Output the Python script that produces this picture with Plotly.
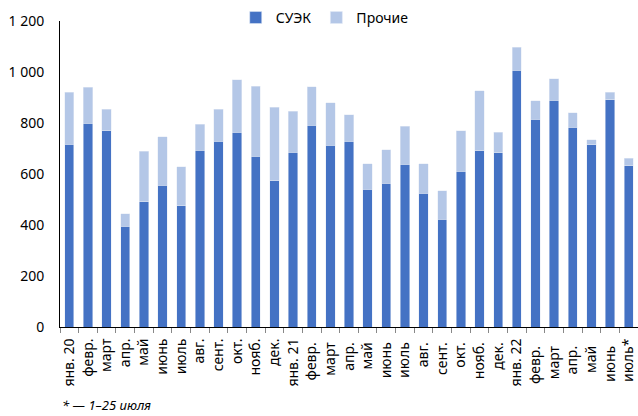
import plotly.graph_objects as go

categories = ["янв. 20", "февр.", "март", "апр.", "май", "июнь", "июль", "авг.", "сент.", "окт.", "нояб.", "дек.",
              "янв. 21", "февр. ", "март ", "апр. ", "май ", "июнь ", "июль ", "авг. ", "сент. ", "окт. ", "нояб. ", "дек. ",
              "янв. 22", "февр.  ", "март  ", "апр.  ", "май  ", "июнь  ", "июль*"]

suek = [717, 799, 770, 396, 492, 556, 475, 693, 729, 764, 670, 573,
        686, 791, 713, 729, 541, 564, 639, 525, 423, 611, 691, 683,
        1007, 815, 889, 783, 714, 892, 632]
total = [921, 940, 854, 444, 689, 746, 629, 795, 854, 970, 945, 862,
         846, 943, 879, 832, 641, 695, 787, 641, 535, 769, 926, 764,
         1098, 887, 974, 840, 735, 921, 661]
other = [t - s for t, s in zip(total, suek)]

y_ticks = [0, 200, 400, 600, 800, 1000, 1200]
y_tick_text = ["0", "200", "400", "600", "800", "1 000", "1 200"]

FONT = "Noto Sans"

fig = go.Figure()
fig.add_trace(go.Bar(x=categories, y=suek, name="СУЭК", marker_color="#4472C4"))
fig.add_trace(go.Bar(x=categories, y=other, name="Прочие", marker_color="#B4C7E7"))

fig.update_layout(
    width=638, height=416,
    barmode="stack", bargap=0.5,
    margin=dict(l=60, r=0, t=21, b=89, autoexpand=False),
    plot_bgcolor="white", paper_bgcolor="white",
    font=dict(family=FONT, size=14, color="black"),
    legend=dict(orientation="h", x=0.458, xanchor="center", y=1.01, yanchor="middle",
                font=dict(size=14), itemwidth=30, traceorder="normal"),
    showlegend=True,
)
fig.update_xaxes(
    type="category", tickangle=-90, showline=True, linecolor="black", linewidth=1,
    ticks="outside", tickson="boundaries", ticklen=5, tickcolor="#888",
    tickfont=dict(size=14), showgrid=False, automargin=False, ticklabelstandoff=5,
)
fig.update_yaxes(
    range=[0, 1200], tickvals=y_ticks, ticktext=y_tick_text, showline=True,
    linecolor="black", linewidth=1, showgrid=False, ticks="", ticklabelstandoff=12,
    tickfont=dict(size=14), zeroline=False, automargin=False,
)
fig.add_annotation(text="<i>* — 1–25 июля</i>", xref="paper", yref="paper",
                   x=0, y=-78/306, xanchor="left", yanchor="middle",
                   showarrow=False, font=dict(size=13))

fig.write_html("out.html", config={"displayModeBar": False},
               post_script="document.body.style.margin='0px';")
